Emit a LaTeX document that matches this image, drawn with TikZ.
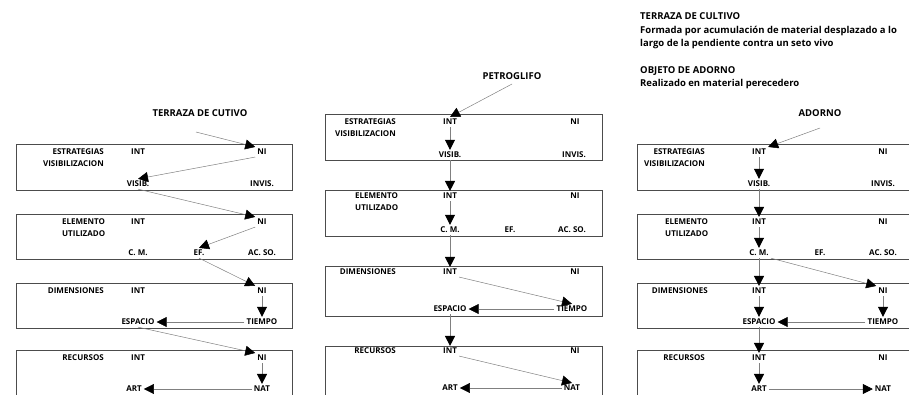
\documentclass[tikz,border=0pt]{standalone}
\usepackage{fontspec}
\setmainfont{Open Sans}
\usetikzlibrary{arrows.meta}

\tikzset{
  kasten/.style={draw=black!70, line width=0.9pt, anchor=north west, inner sep=0pt},
  wert/.style={font=\bfseries\fontsize{8}{12}\selectfont, inner sep=2pt},
  titel/.style={font=\bfseries\fontsize{9.5}{12}\selectfont, inner sep=2pt},
  pfeil/.style={draw=black!50, line width=0.5pt, -{Triangle[length=10pt,width=10pt,color=black]}},
}

\begin{document}
\begin{tikzpicture}[x=1pt, y=-1pt]
    \useasboundingbox (0,0) rectangle (909,394);
    \clip (0,0) rectangle (909,394);

    % Erläuterungen oben rechts
    \node[anchor=north west, align=left, inner sep=0pt, font=\bfseries\fontsize{9.5}{13.5}\selectfont] (info) at (640,12.5)
        {TERRAZA DE CULTIVO
        \\Formada por acumulación de material desplazado a lo
        \\largo de la pendiente contra un seto vivo
        \\[13pt]OBJETO DE ADORNO
        \\Realizado en material perecedero
        };

    % Tafel 1: Terraza de cultivo
    \node[kasten, minimum width=276, minimum height=46] (T1) at (16,144) {};
    \node[kasten, minimum width=276, minimum height=45] (T2) at (16,214) {};
    \node[kasten, minimum width=276, minimum height=45] (T3) at (16,283) {};
    \node[kasten, minimum width=276, minimum height=55] (T4) at (16,350) {};
    \node[titel] (T-titel) at (200,113) {TERRAZA DE CUTIVO};
    \coordinate (T-anf) at (196,132);
    \node[wert, anchor=east, align=right] (T-l1) at (106,158) {ESTRATEGIAS\\VISIBILIZACION};
    \node[wert, anchor=west, align=left] (T-l2) at (60,228) {ELEMENTO\\UTILIZADO};
    \node[wert, anchor=east] (T-l3) at (106,291) {DIMENSIONES};
    \node[wert, anchor=east] (T-l4) at (106,358) {RECURSOS};
    \node[wert] (T-int1) at (138,152) {INT};
    \node[wert] (T-ni1) at (262,152) {NI};
    \node[wert] (T-vis) at (138,184) {VISIB.};
    \node[wert] (T-invis) at (262,184) {INVIS.};
    \node[wert] (T-int2) at (138,222) {INT};
    \node[wert] (T-ni2) at (262,222) {NI};
    \node[wert] (T-cm) at (138,253) {C. M.};
    \node[wert] (T-ef) at (199,253) {EF.};
    \node[wert] (T-acso) at (262,253) {AC. SO.};
    \node[wert] (T-int3) at (138,291) {INT};
    \node[wert] (T-ni3) at (262,291) {NI};
    \node[wert] (T-esp) at (138,322) {ESPACIO};
    \node[wert] (T-tie) at (262,322) {TIEMPO};
    \node[wert] (T-int4) at (138,358) {INT};
    \node[wert] (T-ni4) at (262,358) {NI};
    \node[wert] (T-art) at (134,389) {ART};
    \node[wert] (T-nat) at (262,389) {NAT};
    \draw[pfeil] (T-anf) -- (T-ni1.north west);
    \draw[pfeil] (T-ni1.south west) -- (T-vis.north);
    \draw[pfeil] (T-vis.south) -- (T-ni2.north west);
    \draw[pfeil] (T-ni2.south west) -- (T-ef.north);
    \draw[pfeil] (T-ef.south) -- (T-ni3.north west);
    \draw[pfeil] (T-ni3) -- (T-tie);
    \draw[pfeil] (T-tie) -- (T-esp);
    \draw[pfeil] (T-esp.south) -- (T-ni4.north west);
    \draw[pfeil] (T-ni4) -- (T-nat);
    \draw[pfeil] (T-nat) -- (T-art);

    % Tafel 2: Petroglifo
    \node[kasten, minimum width=277, minimum height=46] (P1) at (325,114) {};
    \node[kasten, minimum width=277, minimum height=46] (P2) at (325,190) {};
    \node[kasten, minimum width=277, minimum height=50] (P3) at (325,266) {};
    \node[kasten, minimum width=277, minimum height=55] (P4) at (325,346) {};
    \node[titel] (P-titel) at (512,76) {PETROGLIFO};
    \coordinate (P-anf) at (512,84);
    \node[wert, anchor=east, align=right] (P-l1) at (398,128) {ESTRATEGIAS\\VISIBILIZACION};
    \node[wert, anchor=west, align=left] (P-l2) at (353,202) {ELEMENTO\\UTILIZADO};
    \node[wert, anchor=east] (P-l3) at (398,272) {DIMENSIONES};
    \node[wert, anchor=east] (P-l4) at (398,351) {RECURSOS};
    \node[wert] (P-int1) at (450,122) {INT};
    \node[wert] (P-ni1) at (575,122) {NI};
    \node[wert] (P-vis) at (450,155) {VISIB.};
    \node[wert] (P-invis) at (574,155) {INVIS.};
    \node[wert] (P-int2) at (450,196) {INT};
    \node[wert] (P-ni2) at (575,196) {NI};
    \node[wert] (P-cm) at (450,230) {C. M.};
    \node[wert] (P-ef) at (510,230) {EF.};
    \node[wert] (P-acso) at (572,230) {AC. SO.};
    \node[wert] (P-int3) at (450,272) {INT};
    \node[wert] (P-ni3) at (575,272) {NI};
    \node[wert] (P-esp) at (450,309) {ESPACIO};
    \node[wert] (P-tie) at (572,309) {TIEMPO};
    \node[wert] (P-int4) at (450,351) {INT};
    \node[wert] (P-ni4) at (575,351) {NI};
    \node[wert] (P-art) at (450,388) {ART};
    \node[wert] (P-nat) at (572,388) {NAT};
    \draw[pfeil] (P-anf) -- (P-int1.north);
    \draw[pfeil] (P-int1) -- (P-vis);
    \draw[pfeil] (P-vis) -- (P-int2);
    \draw[pfeil] (P-int2) -- (P-cm);
    \draw[pfeil] (P-cm) -- (P-int3);
    \draw[pfeil] (P-int3.south east) -- (P-tie.north);
    \draw[pfeil] (P-tie) -- (P-esp);
    \draw[pfeil] (P-esp) -- (P-int4);
    \draw[pfeil] (P-int4.south east) -- (P-nat.north);
    \draw[pfeil] (P-nat) -- (P-art);

    % Tafel 3: Objeto de adorno
    \node[kasten, minimum width=276, minimum height=46] (O1) at (637,144) {};
    \node[kasten, minimum width=276, minimum height=45] (O2) at (637,214) {};
    \node[kasten, minimum width=276, minimum height=45] (O3) at (637,283) {};
    \node[kasten, minimum width=276, minimum height=55] (O4) at (637,350) {};
    \node[titel] (O-titel) at (820,113) {ADORNO};
    \coordinate (O-anf) at (820,128);
    \node[wert, anchor=east, align=right] (O-l1) at (707,158) {ESTRATEGIAS\\VISIBILIZACION};
    \node[wert, anchor=west, align=left] (O-l2) at (663,228) {ELEMENTO\\UTILIZADO};
    \node[wert, anchor=east] (O-l3) at (710,291) {DIMENSIONES};
    \node[wert, anchor=east] (O-l4) at (707,358) {RECURSOS};
    \node[wert] (O-int1) at (759,152) {INT};
    \node[wert] (O-ni1) at (883,152) {NI};
    \node[wert] (O-vis) at (759,184) {VISIB.};
    \node[wert] (O-invis) at (883,184) {INVIS.};
    \node[wert] (O-int2) at (759,222) {INT};
    \node[wert] (O-ni2) at (883,222) {NI};
    \node[wert] (O-cm) at (759,253) {C. M.};
    \node[wert] (O-ef) at (820,253) {EF.};
    \node[wert] (O-acso) at (883,253) {AC. SO.};
    \node[wert] (O-int3) at (759,291) {INT};
    \node[wert] (O-ni3) at (883,291) {NI};
    \node[wert] (O-esp) at (759,322) {ESPACIO};
    \node[wert] (O-tie) at (883,322) {TIEMPO};
    \node[wert] (O-int4) at (759,358) {INT};
    \node[wert] (O-ni4) at (883,358) {NI};
    \node[wert] (O-art) at (759,389) {ART};
    \node[wert] (O-nat) at (883,389) {NAT};
    \draw[pfeil] (O-anf) -- (O-int1.north east);
    \draw[pfeil] (O-int1) -- (O-vis);
    \draw[pfeil] (O-vis) -- (O-int2);
    \draw[pfeil] (O-int2) -- (O-cm);
    \draw[pfeil] (O-cm) -- (O-int3);
    \draw[pfeil] (O-cm.south east) -- (O-ni3.north west);
    \draw[pfeil] (O-int3) -- (O-esp);
    \draw[pfeil] (O-ni3) -- (O-tie);
    \draw[pfeil] (O-tie) -- (O-esp);
    \draw[pfeil] (O-esp) -- (O-int4);
    \draw[pfeil] (O-int4) -- (O-art);
    \draw[pfeil] (O-art) -- (O-nat);
\end{tikzpicture}
\end{document}
